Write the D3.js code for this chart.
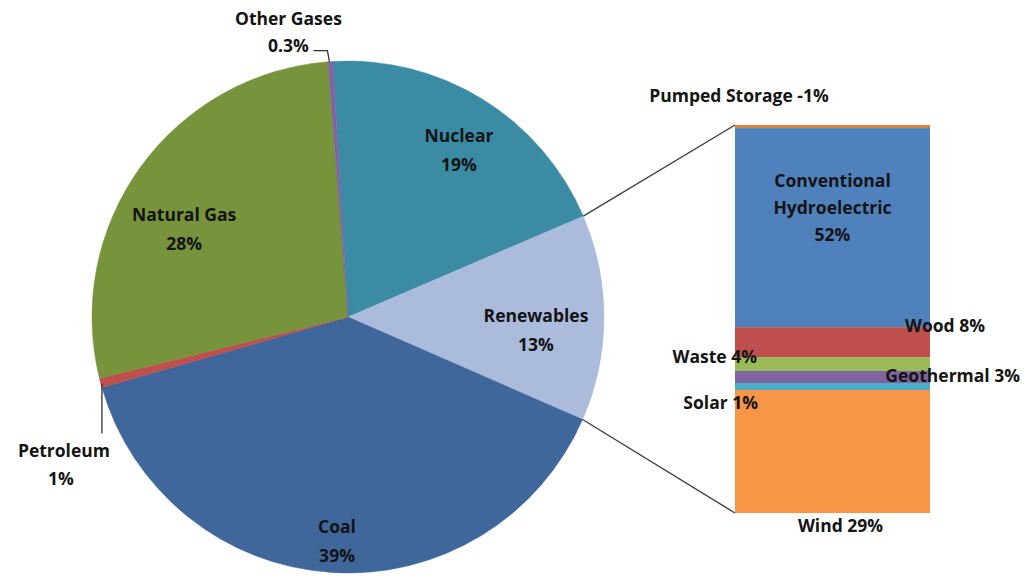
<!DOCTYPE html>
<html>
<head>
<meta charset="utf-8">
<script src="https://cdn.jsdelivr.net/npm/d3@7"></script>
<style>
  body { margin: 0; background: #fff; }
  svg { display: block; }
  text { font-family: "Open Sans", sans-serif; font-weight: 700; font-size: 17.5px; fill: #141414; }
</style>
</head>
<body>
<div id="chart"></div>
<script>
// pie: electricity generation by source (share)
const pieNames  = ["Nuclear", "Renewables", "Coal", "Petroleum", "Natural Gas", "Other Gases"]
const pieValues = [19.5, 13, 39, 0.6, 27.6, 0.3]
const pieLabels = ["19%", "13%", "39%", "1%", "28%", "0.3%"]
const pieColors = ["#3a8ba3", "#abbbdb", "#40679c", "#c0504d", "#77933c", "#8064a2"]

// bar of pie: renewables breakdown, top to bottom
const renewNames  = ["Pumped Storage", "Conventional Hydroelectric", "Wood", "Waste", "Geothermal", "Solar", "Wind"]
const renewValues = [0.8, 51.3, 7.7, 3.6, 3.1, 1.8, 31.7]
const renewLabels = ["-1%", "52%", "8%", "4%", "3%", "1%", "29%"]
const renewColors = ["#d9843c", "#4f81bd", "#c0504d", "#9bbb59", "#8064a2", "#4bacc6", "#f79646"]

const width = 1024, height = 578
const svg = d3.select("#chart").append("svg").attr("width", width).attr("height", height)

const cx = 348, cy = 317, R = 256
const deg = Math.PI / 180

const pie = d3.pie().sort(null).value(d => d.v)
    .startAngle(-3.4 * deg).endAngle(356.6 * deg)
const arcs = pie(pieNames.map((n, i) => ({name: n, v: pieValues[i], label: pieLabels[i], color: pieColors[i]})))
const arc = d3.arc().innerRadius(0).outerRadius(R)

const g = svg.append("g").attr("transform", `translate(${cx},${cy})`)
g.selectAll("path").data(arcs).enter().append("path")
    .attr("d", arc)
    .attr("fill", d => d.data.color)
    .attr("stroke", d => d.data.color)
    .attr("stroke-width", 0.5)

// inside labels
const labelArc = d3.arc().innerRadius(196).outerRadius(196)
const nudge = {"Nuclear": [8, 0], "Renewables": [-8, 12], "Coal": [2, 28], "Natural Gas": [-5, 27]}
const inside = arcs.filter(d => nudge[d.data.name])
const lab = g.selectAll(".lab").data(inside).enter().append("text")
    .attr("class", "lab")
    .attr("text-anchor", "middle")
    .attr("transform", d => {
        const c = labelArc.centroid(d), n = nudge[d.data.name]
        return `translate(${c[0] + n[0]},${c[1] + n[1]})`
    })
lab.append("tspan").attr("x", 0).attr("y", -8).text(d => d.data.name)
lab.append("tspan").attr("x", 0).attr("y", 21).text(d => d.data.label)

// outside labels with leader lines
const pt = (a, r) => [r * Math.sin(a), -r * Math.cos(a)]
const other = arcs.find(d => d.data.name === "Other Gases")
const oa = (other.startAngle + other.endAngle) / 2
const op = pt(oa, R)
g.append("path").attr("fill", "none").attr("stroke", "#333").attr("stroke-width", 1.3)
    .attr("d", d3.line()([[op[0] - 1, op[1]], [op[0] - 3, op[1] - 11], [op[0] - 17, op[1] - 11]]))
g.append("text").attr("text-anchor", "middle").attr("x", op[0] - 42).attr("y", op[1] - 37).text(other.data.name)
g.append("text").attr("text-anchor", "middle").attr("x", op[0] - 42).attr("y", op[1] - 10).text(other.data.label)

const pet = arcs.find(d => d.data.name === "Petroleum")
const pp = pt(pet.startAngle, R)
g.append("path").attr("fill", "none").attr("stroke", "#333").attr("stroke-width", 1.3)
    .attr("d", d3.line()([[pp[0], pp[1] - 4], [pp[0], pp[1] + 46]]))
g.append("text").attr("text-anchor", "middle").attr("x", pp[0] - 38).attr("y", pp[1] + 69).text(pet.data.name)
g.append("text").attr("text-anchor", "middle").attr("x", pp[0] - 41).attr("y", pp[1] + 97).text(pet.data.label)

// bar of renewables
const barX = 735, barW = 195
const total = d3.sum(renewValues)
const y = d3.scaleLinear().domain([0, total]).range([125, 513])
let acc = 0
const segs = renewNames.map((n, i) => {
    const s = {name: n, v: renewValues[i], label: renewLabels[i], color: renewColors[i], y0: acc, y1: acc + renewValues[i]}
    acc += renewValues[i]
    return s
})
svg.selectAll(".seg").data(segs).enter().append("rect")
    .attr("class", "seg")
    .attr("x", barX).attr("width", barW)
    .attr("y", d => y(d.y0)).attr("height", d => y(d.y1) - y(d.y0))
    .attr("fill", d => d.color)

// connector lines from renewables slice to bar
const ren = arcs.find(d => d.data.name === "Renewables")
const a0 = pt(ren.startAngle, R), a1 = pt(ren.endAngle, R)
svg.append("line").attr("stroke", "#404040").attr("stroke-width", 1.4)
    .attr("x1", cx + a0[0]).attr("y1", cy + a0[1]).attr("x2", barX).attr("y2", y(0))
svg.append("line").attr("stroke", "#404040").attr("stroke-width", 1.4)
    .attr("x1", cx + a1[0]).attr("y1", cy + a1[1]).attr("x2", barX).attr("y2", y(total))

// bar labels
const bx = barX + barW / 2
const seg = n => segs.find(s => s.name === n)
const mid = s => (y(s.y0) + y(s.y1)) / 2
svg.append("text").attr("text-anchor", "middle").attr("x", 739).attr("y", 102)
    .text(`${seg("Pumped Storage").name} ${seg("Pumped Storage").label}`)
const hyd = seg("Conventional Hydroelectric")
const ht = svg.append("text").attr("text-anchor", "middle")
ht.append("tspan").attr("x", bx).attr("y", mid(hyd) - 41).text("Conventional")
ht.append("tspan").attr("x", bx).attr("y", mid(hyd) - 14).text("Hydroelectric")
ht.append("tspan").attr("x", bx).attr("y", mid(hyd) + 13).text(hyd.label)
const wood = seg("Wood")
svg.append("text").attr("text-anchor", "middle").attr("x", 945).attr("y", y(wood.y0) + 5)
    .text(`${wood.name} ${wood.label}`)
const waste = seg("Waste")
svg.append("text").attr("text-anchor", "end").attr("x", 757).attr("y", mid(waste) - 1)
    .text(`${waste.name} ${waste.label}`)
const geo = seg("Geothermal")
svg.append("text").attr("text-anchor", "end").attr("x", 1020).attr("y", mid(geo) + 5)
    .text(`${geo.name} ${geo.label}`)
const solar = seg("Solar")
svg.append("text").attr("text-anchor", "end").attr("x", 758).attr("y", mid(solar) + 22)
    .text(`${solar.name} ${solar.label}`)
const wind = seg("Wind")
svg.append("text").attr("text-anchor", "middle").attr("x", bx + 8).attr("y", y(wind.y1) + 19)
    .text(`${wind.name} ${wind.label}`)
</script>
</body>
</html>
